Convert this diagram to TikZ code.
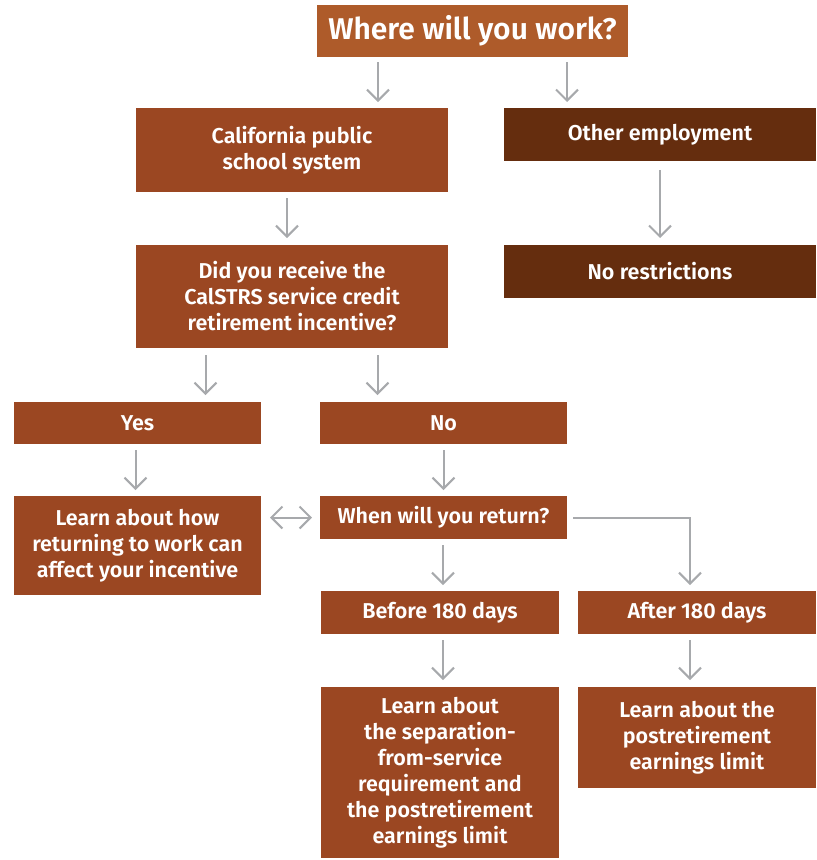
\documentclass[tikz,border=0pt]{standalone}
\usepackage{fontspec}
\setmainfont{Fira Sans}[UprightFont={* SemiBold}]
\usetikzlibrary{arrows.meta}

\definecolor{rust}{HTML}{9B4722}
\definecolor{rustlight}{HTML}{AE5B2A}
\definecolor{rustdark}{HTML}{652D0E}
\definecolor{arrowgray}{HTML}{A7A9AC}

\begin{document}
\begin{tikzpicture}[
x=1pt, y=-1pt,
mybox/.style={
    fill=rust,
    rectangle,
    inner sep=0pt,
    outer sep=0pt,
    anchor=north west,
    align=center,
    text=white,
    font=\fontsize{21.5}{26}\selectfont},
darkbox/.style={mybox, fill=rustdark},
titlebox/.style={mybox, fill=rustlight, font=\fontsize{30}{34}\selectfont},
tip/.style={Straight Barb[length=11pt, width=22pt, line width=2pt]},
arr/.style={draw=arrowgray, line width=2pt, -{Straight Barb[length=11pt, width=22pt, line width=2pt]}},
darr/.style={arr, {Straight Barb[length=11pt, width=22pt, line width=2pt]}-{Straight Barb[length=11pt, width=22pt, line width=2pt]}}
]

\useasboundingbox (0,0) rectangle (817,860);

% top
\node (title) at (317, 5) [titlebox, minimum width=311, minimum height=52] {Where will you work?};

\node (ca) at (136, 108) [mybox, minimum width=312, minimum height=84] {California public\\school system};
\node (other) at (504, 108) [darkbox, minimum width=312, minimum height=53] {Other employment};

\node (did) at (136, 245) [mybox, minimum width=312, minimum height=103] {Did you receive the\\CalSTRS service credit\\retirement incentive?};
\node (norestr) at (504, 245) [darkbox, minimum width=312, minimum height=53] {No restrictions};

% answers
\node (yes) at (14, 402) [mybox, minimum width=247, minimum height=42] {Yes};
\node (no) at (320, 402) [mybox, minimum width=247, minimum height=42] {No};

\node (learnhow) at (14, 496) [mybox, minimum width=247, minimum height=99] {Learn about how\\returning to work can\\affect your incentive};
\node (when) at (320, 496) [mybox, minimum width=247, minimum height=43] {When will you return?};

\node (before) at (321, 591) [mybox, minimum width=238, minimum height=43] {Before 180 days};
\node (after) at (578, 591) [mybox, minimum width=238, minimum height=43] {After 180 days};

\node (learnsep) at (321, 687) [mybox, minimum width=238, minimum height=171] {Learn about\\the separation-\\from-service\\requirement and\\the postretirement\\earnings limit};
\node (learnpost) at (578, 687) [mybox, minimum width=238, minimum height=101] {Learn about the\\postretirement\\earnings limit};

% arrows
\draw[arr] ([xshift=86, yshift=-5]ca.north |- title.south) -- ([xshift=86, yshift=6]ca.north);
\draw[arr] ([xshift=-93, yshift=-5]other.north |- title.south) -- ([xshift=-93, yshift=6]other.north);
\draw[arr] ([xshift=-5, yshift=-6]ca.south) -- ([xshift=-5, yshift=7]did.north);
\draw[arr] ([yshift=-9]other.south) -- ([yshift=7]norestr.north);
\draw[arr] ([xshift=68, yshift=-7]yes.north |- did.south) -- ([xshift=68, yshift=7]yes.north);
\draw[arr] ([xshift=-66, yshift=-7]no.north |- did.south) -- ([xshift=-66, yshift=7]no.north);
\draw[arr] ([xshift=-2, yshift=-6]yes.south) -- ([xshift=-2, yshift=6]learnhow.north);
\draw[arr] ([yshift=-6]no.south) -- ([yshift=6]when.north);
\draw[darr] ([xshift=9]learnhow.east |- when.west) -- ([xshift=-8]when.west);
\draw[arr] ([xshift=3, yshift=-6]before.north |- when.south) -- ([xshift=3, yshift=6]before.north);
\draw[arr] ([xshift=6]when.east) -| ([xshift=-7, yshift=6]after.north);
\draw[arr] ([xshift=3, yshift=-6]before.south) -- ([xshift=3, yshift=7]learnsep.north);
\draw[arr] ([xshift=-7, yshift=-6]after.south) -- ([xshift=-7, yshift=7]learnpost.north);

\end{tikzpicture}
\end{document}
